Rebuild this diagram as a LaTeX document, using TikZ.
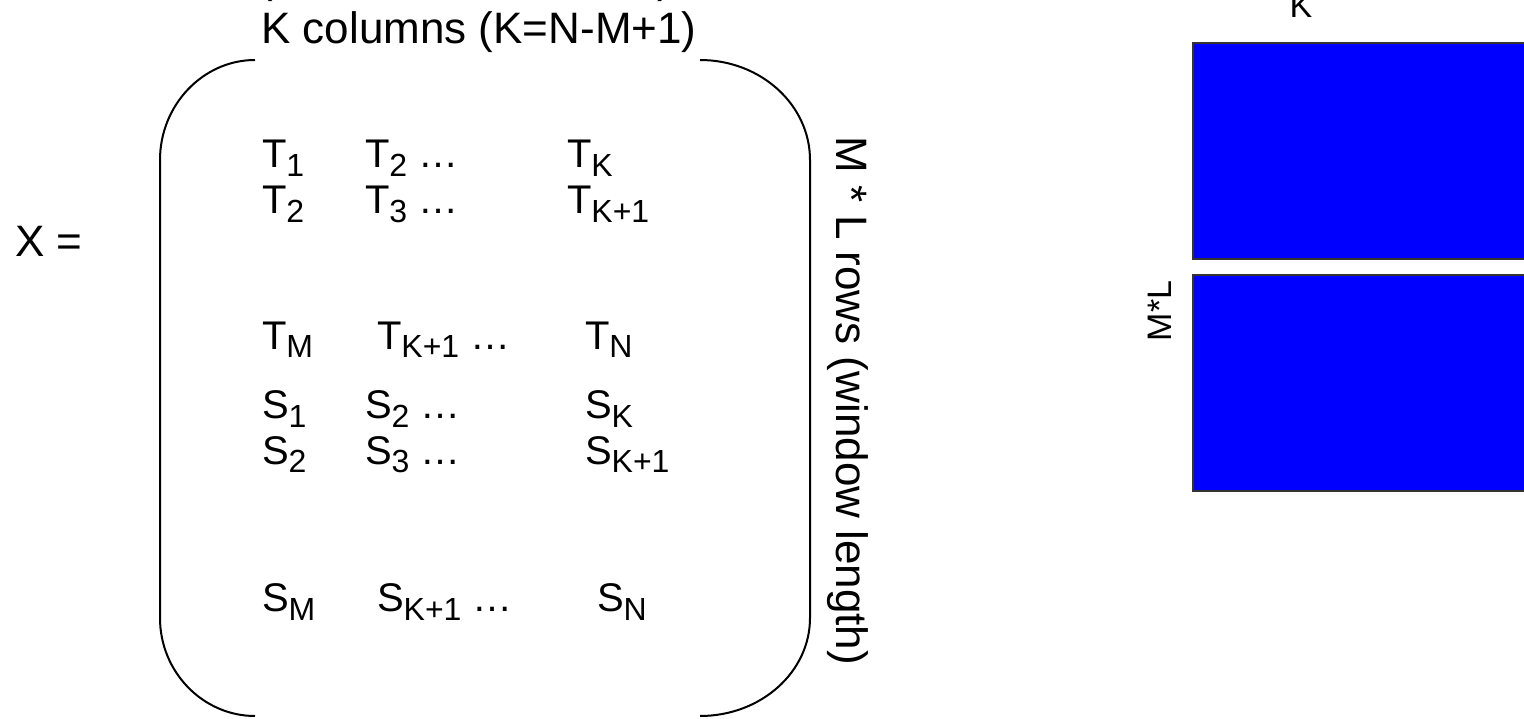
\documentclass[tikz,border=0pt]{standalone}
\usepackage{fontspec}
\setmainfont{Liberation Sans}
\tikzset{
  txt/.style={inner sep=0pt, outer sep=0pt, font=\fontsize{44}{44}\selectfont},
  small/.style={inner sep=0pt, outer sep=0pt, font=\fontsize{34}{34}\selectfont},
  entry/.style={inner sep=0pt, outer sep=0pt, anchor=base west,
    font=\fontsize{40}{40}\selectfont},
  bracket/.style={draw=black, line width=2pt},
  blockbox/.style={draw=black!80, line width=2pt, fill=blue,
    minimum width=360pt, minimum height=216pt, anchor=north west}
}
% lowered index used by the matrix entries
\newcommand{\sbx}[1]{\raisebox{-9pt}{\fontsize{32}{32}\selectfont #1}}
\begin{document}
\begin{tikzpicture}[x=1pt,y=-1pt]
\useasboundingbox (0,0) rectangle (1524,719);

% heading line above the column label, mostly above the page
\node[txt, anchor=base] (hdr) at (465,-7) {(\hspace{384pt})};
\node[txt, anchor=base] (cols) at (479,44) {K columns (K=N-M+1)};

\node[txt, anchor=base west] (X) at (15,257) {X =};

% big round brackets of the matrix
\draw[bracket] (255,60) .. controls (203,60) and (160,105) .. (160,160)
  -- (160,618) .. controls (160,672) and (203,716) .. (255,716);
\draw[bracket] (700,60) .. controls (761,60) and (810,105) .. (810,160)
  -- (810,618) .. controls (810,672) and (761,716) .. (700,716);

% matrix entries
\node[entry] (t11) at (262,168) {T\sbx{1}};
\node[entry] (t12) at (365,168) {T\sbx{2} \dots};
\node[entry] (t1k) at (567,168) {T\sbx{K}};
\node[entry] (t21) at (262,214) {T\sbx{2}};
\node[entry] (t22) at (365,214) {T\sbx{3} \dots};
\node[entry] (t2k) at (567,214) {T\sbx{K+1}};
\node[entry] (tm1) at (262,349) {T\sbx{M}};
\node[entry] (tm2) at (377,349) {T\sbx{K+1} \dots};
\node[entry] (tmk) at (585,349) {T\sbx{N}};
\node[entry] (s11) at (262,418) {S\sbx{1}};
\node[entry] (s12) at (365,418) {S\sbx{2} \dots};
\node[entry] (s1k) at (585,418) {S\sbx{K}};
\node[entry] (s21) at (262,464) {S\sbx{2}};
\node[entry] (s22) at (365,464) {S\sbx{3} \dots};
\node[entry] (s2k) at (585,464) {S\sbx{K+1}};
\node[entry] (sm1) at (262,611) {S\sbx{M}};
\node[entry] (sm2) at (377,611) {S\sbx{K+1} \dots};
\node[entry] (smk) at (597,611) {S\sbx{N}};

\node[txt, rotate=-90] (rows) at (848,401) {M * L rows (window length)};

% block layout on the right
\node[blockbox] (top) at (1192,42) {};
\node[blockbox] (bot) at (1192,274) {};
\node[small, anchor=base] (klab) at (1301,18) {K};
\node[small, rotate=90] (mllab) at (1160,311) {M*L};
\end{tikzpicture}
\end{document}
